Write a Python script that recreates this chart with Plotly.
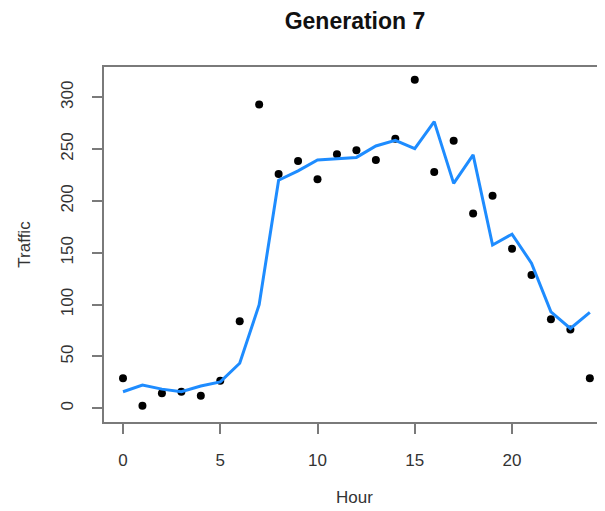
import plotly.graph_objects as go

hours = list(range(25))
traffic_observed = [29, 2.5, 14.5, 16, 12, 26.5, 84, 293, 226, 238.5, 221, 245, 249,
                    239.5, 260, 317, 228, 258, 188, 205, 154, 128.5, 86, 76, 29]
traffic_fitted = [16, 22.5, 18.5, 16, 21.5, 25.5, 43.5, 100, 220, 229, 239.5, 240.5, 242,
                  253, 258.5, 250.5, 276.5, 217, 244.5, 157.5, 168, 140, 93, 77, 92.5]
x_ticks = [0, 5, 10, 15, 20]
y_ticks = [0, 50, 100, 150, 200, 250, 300]

TEXT = "#333333"
AXIS = "#7a7a7a"
FONT = "Liberation Sans, Arial, sans-serif"

W, H = 597, 503  # page body adds an 8px offset

fig = go.Figure()
fig.add_trace(go.Scatter(x=hours, y=traffic_observed, mode="markers",
                         marker=dict(color="black", size=8), showlegend=False))
fig.add_trace(go.Scatter(x=hours, y=traffic_fitted, mode="lines",
                         line=dict(color="#1E8CFF", width=3), showlegend=False))

fig.update_layout(
    width=W, height=H,
    paper_bgcolor="white", plot_bgcolor="white",
    margin=dict(l=96, r=0, t=59, b=89, autoexpand=False),
    font=dict(family=FONT, color=TEXT, size=17),
    title=dict(text="<b>Generation 7</b>", x=347/W, xanchor="center",
               y=1 - 13/H, yanchor="middle", yref="container",
               font=dict(family=FONT, size=23, color="#111111")),
)
fig.update_xaxes(
    range=[-0.977, 24.78], tickvals=x_ticks, ticktext=[str(v) for v in x_ticks],
    automargin=False,
    showgrid=False, zeroline=False, showline=True, mirror=True,
    linecolor=AXIS, linewidth=1.5, ticks="outside", ticklen=10, tickcolor=AXIS,
    tickwidth=1.5, ticklabelstandoff=12, tickfont=dict(size=17),
    title=dict(text="Hour", standoff=22, font=dict(size=17, color=TEXT)),
)
fig.update_yaxes(
    range=[-13.2, 329.2], tickvals=y_ticks, ticktext=[str(v) for v in y_ticks],
    automargin=False,
    tickangle=-90, showgrid=False, zeroline=False, showline=True, mirror=True,
    linecolor=AXIS, linewidth=1.5, ticks="outside", ticklen=10, tickcolor=AXIS,
    tickwidth=1.5, ticklabelstandoff=12, tickfont=dict(size=17),
    title=dict(text="Traffic", standoff=24, font=dict(size=17, color=TEXT)),
)

fig.write_html("out.html")
